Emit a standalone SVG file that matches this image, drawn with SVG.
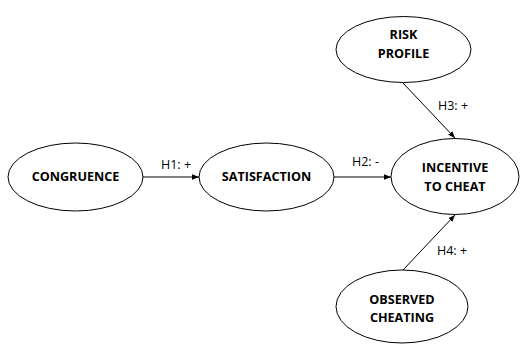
<svg xmlns="http://www.w3.org/2000/svg" width="521" height="345" viewBox="0 0 521 345">
<style>
.n{fill:#fff;stroke:#000;stroke-width:1}
.t{font-family:"Open Sans","DejaVu Sans",sans-serif;font-weight:bold;font-size:12.6px;text-anchor:middle;fill:#000}
.l{font-family:"Open Sans","DejaVu Sans",sans-serif;font-size:12.5px;fill:#000}
.e{stroke:#000;stroke-width:1;fill:none;marker-end:url(#a)}
</style>
<defs>
<marker id="a" viewBox="0 0 10 10" refX="10" refY="5" markerWidth="7" markerHeight="7" orient="auto" markerUnits="userSpaceOnUse">
<path d="M0,1 L10,5 L0,9 z" fill="#000"/>
</marker>
</defs>
<rect width="521" height="345" fill="#fff"/>
<g id="edges">
<line class="e" x1="143" y1="177" x2="199" y2="177"/>
<line class="e" x1="334" y1="177" x2="391" y2="177"/>
<line class="e" x1="403" y1="83" x2="455" y2="138"/>
<line class="e" x1="403" y1="270" x2="455" y2="215"/>
<text class="l" x="161" y="169">H1: +</text>
<text class="l" x="352" y="166">H2: -</text>
<text class="l" x="438" y="110">H3: +</text>
<text class="l" x="437" y="255">H4: +</text>
</g>
<g id="congruence">
<ellipse class="n" cx="75.5" cy="177" rx="67.5" ry="34"/>
<text class="t" x="75.5" y="181">CONGRUENCE</text>
</g>
<g id="satisfaction">
<ellipse class="n" cx="266.5" cy="177" rx="67.5" ry="34"/>
<text class="t" x="266.5" y="181">SATISFACTION</text>
</g>
<g id="incentive">
<ellipse class="n" cx="455" cy="176.5" rx="64" ry="38"/>
<text class="t" x="455" y="172">INCENTIVE</text>
<text class="t" x="455" y="191">TO CHEAT</text>
</g>
<g id="risk">
<ellipse class="n" cx="403.5" cy="49.5" rx="67.5" ry="33"/>
<text class="t" x="403.5" y="39">RISK</text>
<text class="t" x="403.5" y="58">PROFILE</text>
</g>
<g id="observed">
<ellipse class="n" cx="402" cy="306.5" rx="66" ry="36.5"/>
<text class="t" x="402" y="304">OBSERVED</text>
<text class="t" x="402" y="322">CHEATING</text>
</g>
</svg>
